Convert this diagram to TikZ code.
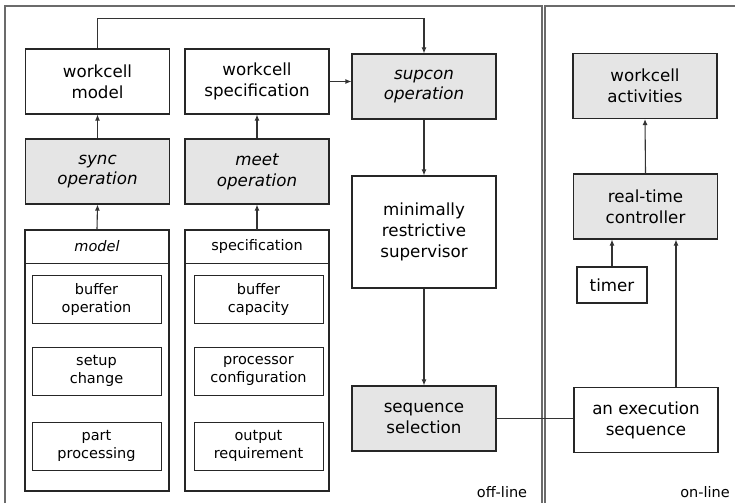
\documentclass[tikz,border=0pt]{standalone}
\usepackage{fontspec}
\setmainfont{DejaVu Sans}
\usetikzlibrary{arrows.meta}
\definecolor{opgray}{gray}{0.9}
\definecolor{framegray}{gray}{0.42}

\begin{document}
\begin{tikzpicture}[x=1pt,y=-1pt] % pixel grid, y grows downwards
\tikzstyle{mybox} = [draw=black!85, line width=1.1pt, minimum width=144pt, minimum height=65pt, inner sep=2pt, align=center, font=\fontsize{16.7}{20.8}\selectfont] % plain block
\tikzstyle{myop} = [mybox, fill=opgray] % grey operation block
\tikzstyle{mypart} = [draw=black!85, line width=1pt, minimum width=129pt, minimum height=48pt, inner sep=2pt, align=center, font=\fontsize{14.5}{18}\selectfont] % item inside a list
\tikzstyle{myhead} = [mypart, minimum width=144pt, minimum height=33pt] % list header
\tikzstyle{myarrow} = [draw=black!80, line width=1.1pt, -{Latex[length=6pt,width=5pt]}]
\tikzstyle{myline} = [draw=black!80, line width=1.1pt]
\tikzstyle{myframe} = [draw=framegray, line width=1.5pt]
\tikzstyle{mylabel} = [font=\fontsize{14.5}{18}\selectfont]

\useasboundingbox (0,0) rectangle (735,503);

% frames
\draw[myframe] (5,503) -- (5,6) -- (542,6) -- (542,503);
\draw[myframe] (545,503) -- (545,6) -- (735,6);
\node[mylabel] (offl) at (502,492) {off-line};
\node[mylabel] (onl) at (705,492) {on-line};

% model column
\node[mybox] (model) at (97.5,81.5) {workcell\\model};
\node[myop] (sync) at (97.5,171.5) {\itshape sync\\\itshape operation};
\node[draw=black!85, line width=1.1pt, minimum width=144pt, minimum height=261pt] (modellist) at (97,360.5) {};
\node[myhead, font=\fontsize{14.5}{18}\selectfont\itshape] (modelhead) at (97,246.5) {model};
\node[mypart] (buffop) at (96.5,299) {buffer\\operation};
\node[mypart] (setup) at (96.5,371) {setup\\change};
\node[mypart] (partp) at (96.5,446) {part\\processing};

% specification column
\node[mybox] (spec) at (257,81.5) {workcell\\specification};
\node[myop] (meet) at (257,171.5) {\itshape meet\\\itshape operation};
\node[draw=black!85, line width=1.1pt, minimum width=144pt, minimum height=261pt] (speclist) at (257,360.5) {};
\node[myhead] (spechead) at (257,246.5) {specification};
\node[mypart] (buffcap) at (258.5,299) {buffer\\capacity};
\node[mypart] (proc) at (258.5,371) {processor\\configuration};
\node[mypart] (outreq) at (258.5,446) {output\\requirement};

% supervisor column
\node[myop] (supcon) at (424,86.5) {\itshape supcon\\\itshape operation};
\node[mybox, minimum height=112pt] (superv) at (424,232) {minimally\\restrictive\\supervisor};
\node[myop] (seqsel) at (424,418.5) {sequence\\selection};

% on-line part
\node[myop] (activ) at (645,86) {workcell\\activities};
\node[myop] (ctrl) at (645.5,206.5) {real-time\\controller};
\node[mybox, minimum width=70pt, minimum height=36pt] (timer) at (612,285) {timer};
\node[mybox] (execseq) at (646,420) {an execution\\sequence};

% connectors
\draw[myarrow] (modelhead.north) -- (sync.south);
\draw[myarrow] (sync.north) -- (model.south);
\draw[myarrow] (spechead.north) -- (meet.south);
\draw[myarrow] (meet.north) -- (spec.south);
\draw[myarrow] (model.north) -- ++(0,-30) -| (supcon.north);
\draw[myarrow] (spec.east) -- (spec.east -| supcon.west);
\draw[myarrow] (supcon.south) -- (superv.north);
\draw[myarrow] (superv.south) -- (seqsel.north);
\draw[myline] (seqsel.east) -- (seqsel.east -| execseq.west);
\draw[myarrow] ([xshift=30pt]execseq.north) -- ([xshift=30pt]execseq.north |- ctrl.south);
\draw[myarrow] (timer.north) -- (timer.north |- ctrl.south);
\draw[myarrow] (ctrl.north) -- (activ.south);
\end{tikzpicture}
\end{document}
